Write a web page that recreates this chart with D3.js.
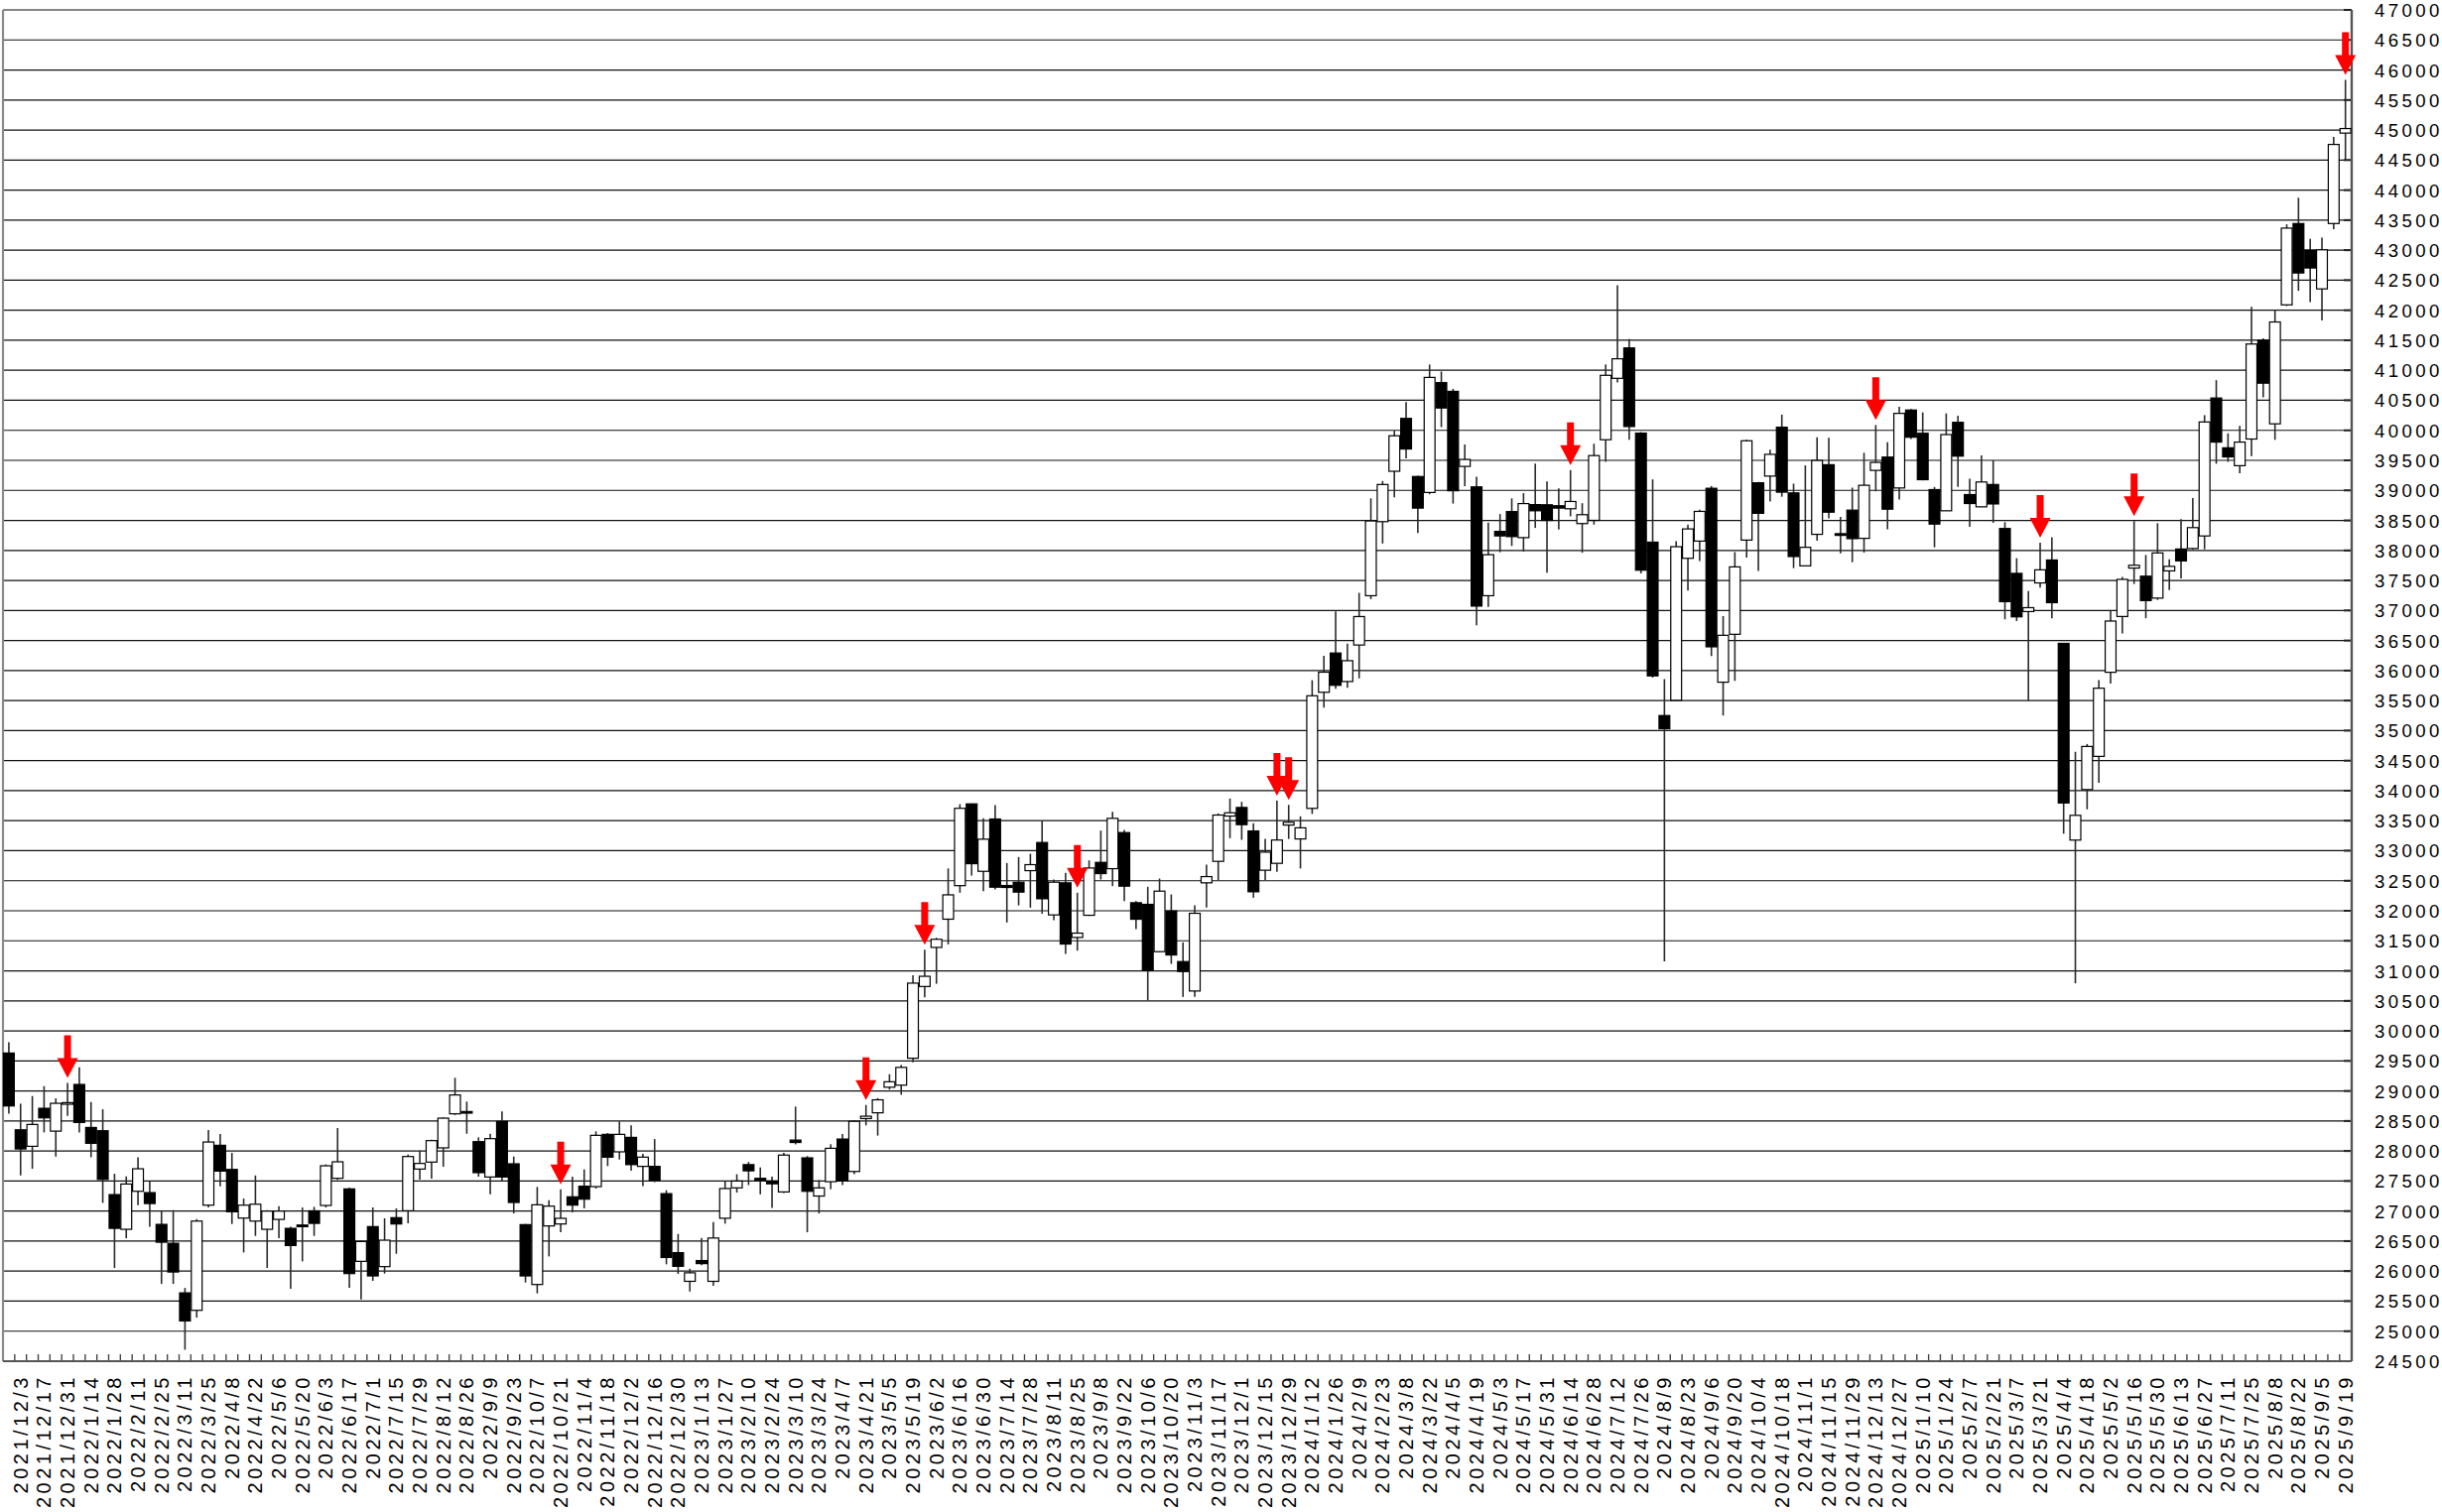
<!DOCTYPE html>
<html><head><meta charset="utf-8">
<script src="https://cdn.jsdelivr.net/npm/d3@7"></script>
<style>html,body{margin:0;padding:0;background:#fff;} svg{display:block;}</style>
</head><body>
<svg id="chart" width="2461" height="1524"></svg>
<script>
const dates = ["2021/11/26","2021/12/3","2021/12/10","2021/12/17","2021/12/24","2021/12/31","2022/1/7","2022/1/14","2022/1/21","2022/1/28",
"2022/2/4","2022/2/11","2022/2/18","2022/2/25","2022/3/4","2022/3/11","2022/3/18","2022/3/25","2022/4/1","2022/4/8",
"2022/4/15","2022/4/22","2022/4/29","2022/5/6","2022/5/13","2022/5/20","2022/5/27","2022/6/3","2022/6/10","2022/6/17",
"2022/6/24","2022/7/1","2022/7/8","2022/7/15","2022/7/22","2022/7/29","2022/8/5","2022/8/12","2022/8/19","2022/8/26",
"2022/9/2","2022/9/9","2022/9/16","2022/9/23","2022/9/30","2022/10/7","2022/10/14","2022/10/21","2022/10/28","2022/11/4",
"2022/11/11","2022/11/18","2022/11/25","2022/12/2","2022/12/9","2022/12/16","2022/12/23","2022/12/30","2023/1/6","2023/1/13",
"2023/1/20","2023/1/27","2023/2/3","2023/2/10","2023/2/17","2023/2/24","2023/3/3","2023/3/10","2023/3/17","2023/3/24",
"2023/3/31","2023/4/7","2023/4/14","2023/4/21","2023/4/28","2023/5/5","2023/5/12","2023/5/19","2023/5/26","2023/6/2",
"2023/6/9","2023/6/16","2023/6/23","2023/6/30","2023/7/7","2023/7/14","2023/7/21","2023/7/28","2023/8/4","2023/8/11",
"2023/8/18","2023/8/25","2023/9/1","2023/9/8","2023/9/15","2023/9/22","2023/9/29","2023/10/6","2023/10/13","2023/10/20",
"2023/10/27","2023/11/3","2023/11/10","2023/11/17","2023/11/24","2023/12/1","2023/12/8","2023/12/15","2023/12/22","2023/12/29",
"2024/1/5","2024/1/12","2024/1/19","2024/1/26","2024/2/2","2024/2/9","2024/2/16","2024/2/23","2024/3/1","2024/3/8",
"2024/3/15","2024/3/22","2024/3/29","2024/4/5","2024/4/12","2024/4/19","2024/4/26","2024/5/3","2024/5/10","2024/5/17",
"2024/5/24","2024/5/31","2024/6/7","2024/6/14","2024/6/21","2024/6/28","2024/7/5","2024/7/12","2024/7/19","2024/7/26",
"2024/8/2","2024/8/9","2024/8/16","2024/8/23","2024/8/30","2024/9/6","2024/9/13","2024/9/20","2024/9/27","2024/10/4",
"2024/10/11","2024/10/18","2024/10/25","2024/11/1","2024/11/8","2024/11/15","2024/11/22","2024/11/29","2024/12/6","2024/12/13",
"2024/12/20","2024/12/27","2025/1/3","2025/1/10","2025/1/17","2025/1/24","2025/1/31","2025/2/7","2025/2/14","2025/2/21",
"2025/2/28","2025/3/7","2025/3/14","2025/3/21","2025/3/28","2025/4/4","2025/4/11","2025/4/18","2025/4/25","2025/5/2",
"2025/5/9","2025/5/16","2025/5/23","2025/5/30","2025/6/6","2025/6/13","2025/6/20","2025/6/27","2025/7/4","2025/7/11",
"2025/7/18","2025/7/25","2025/8/1","2025/8/8","2025/8/15","2025/8/22","2025/8/29","2025/9/5","2025/9/12","2025/9/19"];

const open = [29631,28353,28078,28711,28331,28790,29108,28392,28337,27274,
26696,27329,27307,26778,26464,25638,25347,27098,28095,27693,
26883,26833,26696,26861,26712,26767,27004,27093,27545,27369,
26163,26741,26075,26890,27005,27699,27815,28052,28619,28657,
28156,27567,28492,27787,26774,25777,26752,26785,27237,27413,
27407,28277,27986,28227,27744,27744,27290,26307,25830,26176,
25830,26880,27386,27773,27545,27500,27318,28182,27886,27250,
27489,28199,27659,28540,28636,29062,29096,29545,30739,31390,
31860,32418,33780,32657,33528,32421,32476,32668,33137,31931,
32465,31556,31925,32806,32701,33302,32134,32107,31319,31997,
31154,30664,32465,32823,33577,33720,33329,32675,32790,33427,
33196,33705,35638,36292,35817,36425,37246,38479,39318,40198,
39231,38965,40794,40649,39399,39058,37246,38317,38647,38213,
38763,38760,38744,38694,38447,38501,39843,40866,41372,39953,
38138,35251,35504,37869,38155,39035,35806,36604,38172,39126,
39238,40052,38958,37743,38268,39427,38279,38671,38201,39333,
39554,39040,40338,39951,39013,38660,40133,38930,38726,39098,
38365,37618,36982,37459,37841,36453,33177,34018,34571,35971,
36900,37706,37571,37206,37659,38024,38032,38241,40538,39709,
39411,39855,41500,40108,42089,43443,43000,42355,43443,44949];

const high = [29813,28788,28915,29080,28877,29135,29394,28816,28695,27621,
27577,27896,27494,26999,27015,25721,26866,28348,28282,27968,
27208,27593,27015,27081,26740,27059,27070,27776,28382,27391,
26510,27060,26879,27044,27942,28008,28189,28558,29219,28823,
28228,28288,28657,27908,26785,27402,27181,27363,27573,27694,
28327,28299,28492,28426,27954,28199,27347,26619,26040,26551,
26818,27500,27613,27818,27727,27574,27971,28739,27915,27517,
28113,28284,28511,28767,28881,29278,29432,30926,31352,31551,
32705,33775,33786,33539,33759,32795,32894,32949,33495,32520,
32630,32300,32839,33335,33649,33346,32162,32399,32536,32272,
31473,32090,32768,33621,33869,33814,33456,33196,33832,33763,
33572,35840,36245,36986,36448,37293,38867,39156,39995,40470,
39243,41095,40979,40690,39764,39226,38462,38606,38867,38954,
39446,39150,39035,39337,38787,39777,41097,42417,41521,39970,
39183,35856,38155,38430,38677,39073,36906,37973,39844,39140,
39678,40261,39112,39416,39885,39874,38560,39046,39626,40089,
39802,40393,40354,40299,39057,40282,40244,39195,39581,39500,
38471,37871,37324,38129,38218,36460,34647,34777,35841,36988,
37559,38488,37924,38453,37853,38521,38874,40253,40835,39950,
40076,42057,41532,42006,43430,43873,43190,43209,44886,45835];

const low = [28623,27593,27704,28309,27907,28585,28309,27896,27136,26052,
26547,27098,26740,25787,25787,24691,25226,27060,27412,26784,
26310,26586,26052,26547,25705,26162,26586,27060,27518,25722,
25530,25838,25959,26289,26796,27523,27540,27738,28600,28288,
27573,27281,27501,26961,25810,25629,26245,26647,26978,27044,
27374,27749,27859,27670,27415,27480,26113,25954,25659,26097,
25756,26790,27307,27432,27278,27051,27301,28110,26647,26960,
27364,27432,27614,28426,28256,29023,28937,29477,30557,30784,
31440,32300,32586,32327,32355,31804,32090,32052,31952,31842,
31281,31336,31914,32520,32410,32162,31694,30510,31308,31116,
30565,30565,32052,32509,33208,33181,32217,32510,32650,33196,
32704,33612,35383,35696,35713,35869,37189,38115,38884,39532,
38288,38936,40053,38780,39069,36755,37061,37970,38074,37982,
38375,37630,38347,38568,37962,38430,39475,40795,39843,37616,
35883,31156,35488,37330,37825,36241,35251,35828,37880,37660,
38815,38894,37705,37743,38163,38533,37953,37804,37964,38985,
38350,38847,39857,39167,38052,38660,39057,38395,38726,38460,
36853,36824,35500,37382,36871,33283,30792,33689,34130,35783,
36618,37441,36871,37177,37341,37536,38019,38019,39443,39475,
39285,39570,40551,39842,42070,42323,42133,41829,43348,44506];

const close = [28750,28034,28442,28552,28794,28805,28475,28128,27527,26712,
27450,27704,27125,26481,25985,25170,26833,28150,27665,26988,
27098,27114,26999,26999,26426,26740,26795,27754,27820,25959,
26493,25920,26515,26785,27908,27793,28173,28547,28933,28635,
27639,28206,27567,27143,25920,27104,27082,26879,27099,27198,
28261,27897,28277,27773,27898,27517,26227,26080,25972,26125,
26551,27375,27500,27670,27511,27454,27932,28142,27329,27386,
28045,27500,28494,28579,28852,29153,29392,30795,30909,31525,
32265,33706,32784,33192,32393,32388,32311,32768,32200,32476,
31446,31628,32712,32619,33539,32410,31859,31005,32327,31264,
30989,31958,32569,33594,33632,33434,32316,32976,33178,33473,
33381,35580,35973,35754,36164,36899,38491,39098,39909,39689,
38705,40881,40372,38994,39515,37073,37929,38242,38230,38780,
38660,38500,38705,38815,38595,39579,40916,41191,40063,37671,
35911,35031,38062,38358,38650,36395,36587,37726,39826,38618,
39600,38970,37898,38052,39498,38637,38251,38196,39085,39466,
38687,40282,39885,39178,38439,39929,39570,38781,39140,38774,
37147,36894,37047,37677,37130,33795,33589,34736,35706,36824,
37518,37753,37165,37959,37735,37826,38380,40139,39804,39557,
39804,41437,40785,41804,43367,42620,42703,43006,44760,45025];

const signalDates = ["2021/12/31","2022/10/21","2023/4/21","2023/5/26","2023/8/25","2023/12/22",
"2023/12/29","2024/6/14","2024/12/13","2025/3/21","2025/5/16","2025/9/19"];

const yTickValues = [24500,25000,25500,26000,26500,27000,27500,28000,28500,29000,29500,30000,
30500,31000,31500,32000,32500,33000,33500,34000,34500,35000,35500,36000,36500,37000,37500,
38000,38500,39000,39500,40000,40500,41000,41500,42000,42500,43000,43500,44000,44500,45000,
45500,46000,46500,47000];

const xTickLabels = dates.filter((d, i) => i % 2 === 1);

const data = dates.map((d, i) => ({date: d, o: open[i], h: high[i], l: low[i], c: close[i]}));

const L = 3, R = 2370, T = 10, B = 1372;
const FONT = "'Liberation Sans', Arial, Helvetica, sans-serif";

const svg = d3.select("#chart");
svg.append("rect").attr("width", 2461).attr("height", 1524).attr("fill", "#fff");

const x = d3.scaleBand().domain(dates).range([L, R - 0.4]).paddingInner(0.08).paddingOuter(0.04);
const y = d3.scaleLinear().domain([24500, 47000]).range([B, T]);

// gridlines
svg.append("g").selectAll("line").data(yTickValues).join("line")
  .attr("x1", L).attr("x2", R)
  .attr("y1", d => y(d)).attr("y2", d => y(d))
  .attr("stroke", "#111").attr("stroke-width", 1.2);

// right-side small ticks
svg.append("g").selectAll("line").data(yTickValues).join("line")
  .attr("x1", R - 8).attr("x2", R)
  .attr("y1", d => y(d)).attr("y2", d => y(d))
  .attr("stroke", "#222").attr("stroke-width", 2);

// bottom ticks at slot boundaries
const step = x.step();
svg.append("g").selectAll("line").data(dates.slice(1)).join("line")
  .attr("x1", d => x(d) - step * 0.04).attr("x2", d => x(d) - step * 0.04)
  .attr("y1", B - 7).attr("y2", B)
  .attr("stroke", "#444").attr("stroke-width", 1.4);

// borders
svg.append("line").attr("x1", L).attr("x2", L).attr("y1", T).attr("y2", B)
  .attr("stroke", "#8a8a8a").attr("stroke-width", 2.2);
svg.append("line").attr("x1", L).attr("x2", R).attr("y1", B).attr("y2", B)
  .attr("stroke", "#555").attr("stroke-width", 2.2);
svg.append("line").attr("x1", R).attr("x2", R).attr("y1", T).attr("y2", B)
  .attr("stroke", "#555").attr("stroke-width", 2.4);

// candles
const cx = d => x(d.date) + x.bandwidth() / 2;
const g = svg.append("g");
g.selectAll("line.wick").data(data).join("line").attr("class", "wick")
  .attr("x1", cx).attr("x2", cx)
  .attr("y1", d => y(d.h)).attr("y2", d => y(d.l))
  .attr("stroke", "#2a2a2a").attr("stroke-width", 1.6);
g.selectAll("rect.body").data(data).join("rect").attr("class", "body")
  .attr("x", d => x(d.date))
  .attr("width", x.bandwidth())
  .attr("y", d => y(Math.max(d.o, d.c)))
  .attr("height", d => Math.max(Math.abs(y(d.o) - y(d.c)), 1.6))
  .attr("fill", d => d.c < d.o ? "#000" : "#fff")
  .attr("stroke", "#000").attr("stroke-width", 1.2);

// signal arrows
const sig = data.filter(d => signalDates.includes(d.date));
svg.append("g").selectAll("path").data(sig).join("path")
  .attr("d", d => {
    const c = cx(d), t = y(d.h) - 5;
    return `M${c},${t} L${c - 10.5},${t - 20} L${c - 3.5},${t - 20} L${c - 3.5},${t - 43} L${c + 3.5},${t - 43} L${c + 3.5},${t - 20} L${c + 10.5},${t - 20} Z`;
  })
  .attr("fill", "#ff0000");

// y axis (right)
const yAxis = svg.append("g").attr("transform", `translate(${R},0)`)
  .call(d3.axisRight(y).tickValues(yTickValues).tickSize(0).tickPadding(23).tickFormat(d3.format("d")));
yAxis.select(".domain").remove();
yAxis.selectAll("text")
  .attr("font-family", FONT).attr("font-size", 18.6)
  .attr("letter-spacing", "3.4px").attr("fill", "#000").attr("dy", "0.35em");

// x axis (bottom)
const xAxis = svg.append("g").attr("transform", `translate(0,${B})`)
  .call(d3.axisBottom(x).tickValues(xTickLabels).tickSize(0));
xAxis.select(".domain").remove();
xAxis.selectAll("text")
  .attr("font-family", FONT).attr("font-size", 20)
  .attr("letter-spacing", "3.5px").attr("fill", "#000")
  .attr("text-anchor", "end")
  .attr("transform", "rotate(-90)")
  .attr("x", -13).attr("y", 7).attr("dy", "0");
</script>
</body></html>
